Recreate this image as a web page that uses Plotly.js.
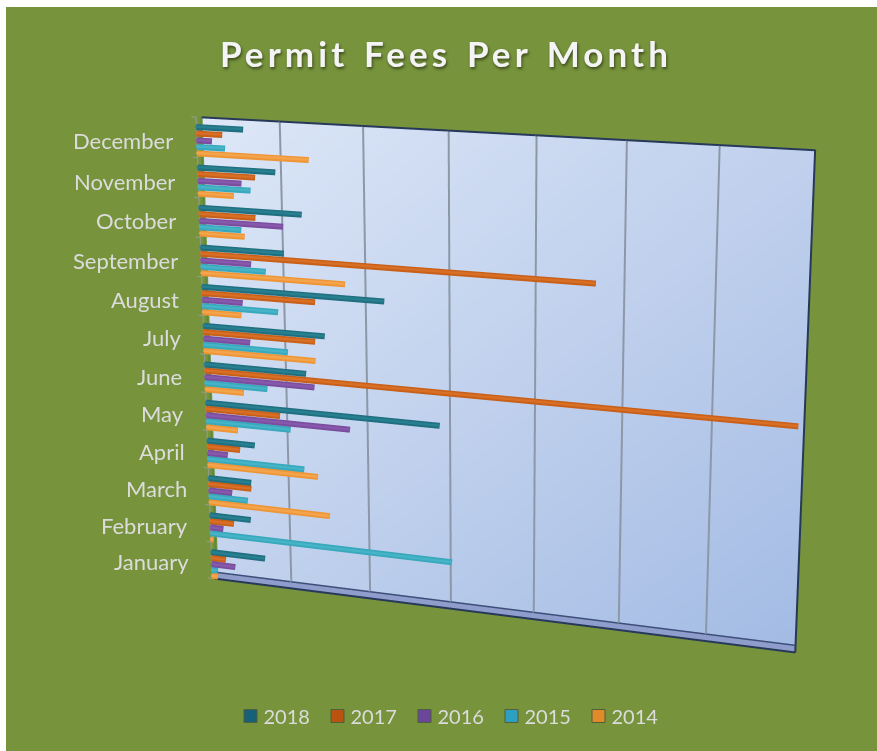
<!DOCTYPE html>
<html><head><meta charset="utf-8">
<script src="https://cdn.plot.ly/plotly-3.0.1.min.js"></script>
<style>
html,body{margin:0;padding:0;background:#fff;overflow:hidden;width:877px;height:751px}
#frame{position:absolute;left:6px;top:7px;width:871px;height:744px;overflow:hidden;background:#77933c}
#chart{position:absolute;left:-6px;top:-566px;width:877px;height:1868px}
.gtitle{letter-spacing:4.1px;word-spacing:3px}
.legendtext{transform:translateX(-7px)}
</style></head><body>
<div id="frame"><div id="chart"></div></div>
<script>
var chartTitle='Permit Fees Per Month';
var months=['January','February','March','April','May','June','July','August','September','October','November','December'];
var years=['2018','2017','2016','2015','2014'];
var colors=['#1f6f80','#c8601a','#7a4d9f','#38a8bc','#ee9636'];
var lightColors=['#277f90','#d96f24','#8759ac','#45b4c6','#f4a44c'];
var legendColors=['#17607a','#b9530f','#6b469a','#2d9fc0','#e08a2a'];
var v2018=[0.70,0.53,0.55,0.61,2.90,1.28,1.52,2.25,1.04,1.27,0.96,0.58];
var v2017=[0.19,0.31,0.55,0.42,0.94,6.95,1.40,1.41,4.70,0.70,0.71,0.32];
var v2016=[0.31,0.17,0.30,0.26,1.81,1.38,0.59,0.51,0.63,1.04,0.54,0.19];
var v2015=[0.08,3.04,0.50,1.23,1.07,0.79,1.06,0.95,0.81,0.52,0.65,0.35];
var v2014=[0.08,0.04,1.54,1.40,0.40,0.49,1.40,0.49,1.78,0.56,0.44,1.37];
var series=[v2018,v2017,v2016,v2015,v2014];
var gridTicks=[1,2,3,4,5,6];
var xMax=7, zMax=12;
var traces=[];
traces.push({type:'mesh3d',x:[0.04,xMax,xMax,0.04],y:[1,1,1,1],z:[0.15,0.15,zMax,zMax],i:[0,0],j:[1,2],k:[2,3],
 vertexcolor:['#c3d3ee','#a3bbe4','#c0d0ed','#dde7f7'],
 lighting:{ambient:1,diffuse:0,specular:0,roughness:1,fresnel:0},flatshading:true,showlegend:false,hoverinfo:'skip'});
traces.push({type:'mesh3d',x:[0,xMax,xMax,0],y:[1,1,1,1],z:[0,0,0.15,0.15],i:[0,0],j:[1,2],k:[2,3],
 color:'#8e9dcb',lighting:{ambient:1,diffuse:0,specular:0,roughness:1,fresnel:0},flatshading:true,showlegend:false,hoverinfo:'skip'});
function seg(color,width,x,y,z){traces.push({type:'scatter3d',mode:'lines',x:x,y:y,z:z,line:{color:color,width:width},showlegend:false,hoverinfo:'skip'});}
var gx=[],gy=[],gz=[];
gridTicks.forEach(function(t){gx.push(t,t,null);gy.push(.9,.9,null);gz.push(0.15,zMax,null);});
seg('#8c98a8',4,gx,gy,gz);
seg('#27395a',4,[0.04,xMax,xMax],[.9,.9,.9],[zMax,zMax,0]);
seg('#27395a',4,[0,xMax],[.9,.9],[0,0]);
seg('#3b4f78',3,[0.04,xMax],[.9,.9],[0.18,0.18]);
seg('#5f8a3b',4,[0.02,0.02],[.95,.95],[0,zMax]);
var ax=[-0.03,-0.03,null],ay=[.9,.9,null],az=[0,zMax,null];
months.forEach(function(m,i){ax.push(-0.09,-0.03,null);ay.push(.9,.9,null);az.push(i,i,null);});
ax.push(-0.09,-0.03);ay.push(.9,.9);az.push(zMax,zMax);
seg('#8f9a87',2.5,ax,ay,az);
var offs=[.33,.17,0,-.16,-.32];
function bars(palette,width,depth,zShift){
 series.forEach(function(vals,s){
  var x=[],y=[],z=[];
  vals.forEach(function(v,i){x.push(0,v,null);y.push(depth,depth,null);var c=i+.45+offs[s]+zShift;z.push(c,c,null);});
  traces.push({type:'scatter3d',mode:'lines',x:x,y:y,z:z,line:{color:palette[s],width:width},legendgroup:years[s],showlegend:false,hoverinfo:'skip'});
 });
}
bars(colors,12,.6,0);
bars(lightColors,5,.5,.02);
years.forEach(function(yr,s){
 traces.push({type:'scatter3d',mode:'markers',name:yr,x:[-50],y:[.5],z:[-50],legendgroup:yr,
  marker:{symbol:'square',size:13,color:legendColors[s],line:{color:'#4f5f3a',width:1}},hoverinfo:'skip'});
});
var H=1868, T=559;
var layout={
 width:877,height:H,autosize:false,margin:{l:0,r:0,t:0,b:0,pad:0},
 paper_bgcolor:'#77933c',
 font:{family:'Lato, sans-serif',color:'#dcdcdc'},
 title:{text:chartTitle,x:446/877,xanchor:'center',y:1-(55+T)/H,yanchor:'middle',
  font:{family:'Lato, sans-serif',size:35,weight:700,color:'#f4f4f4',shadow:'1px 2px 3px rgba(0,0,0,.5)'}},
 legend:{orientation:'h',x:448/877,xanchor:'center',y:1-(716+T)/H,yanchor:'middle',entrywidth:42,entrywidthmode:'pixels',font:{size:20,color:'#dcdcdc'},bgcolor:'rgba(0,0,0,0)',itemclick:false},
 scene:{
  domain:{x:[0,1],y:[0,1]},
  aspectmode:'manual',aspectratio:{x:1.4392,y:.04,z:1.01667},
  xaxis:{visible:false,range:[-0.5,7.5]},
  yaxis:{visible:false,range:[0,1]},
  zaxis:{visible:false,range:[-0.1,12.1]},
  bgcolor:'rgba(0,0,0,0)',
  camera:{projection:{type:'perspective'},
   eye:{x:1.3740,y:-4.1055,z:1.2317},
   center:{x:-.1033,y:-.0142,z:.0105},
   up:{x:-.0860,y:.2563,z:.9628}},
  annotations:months.map(function(m,i){return {x:-0.3,y:.9,z:i+.38,text:m,showarrow:false,xanchor:'right',yanchor:'middle',font:{family:'Lato, sans-serif',size:22,color:'#dcdcdc'}};})
 }
};
Plotly.newPlot('chart',traces,layout,{displayModeBar:false});
</script></body></html>
